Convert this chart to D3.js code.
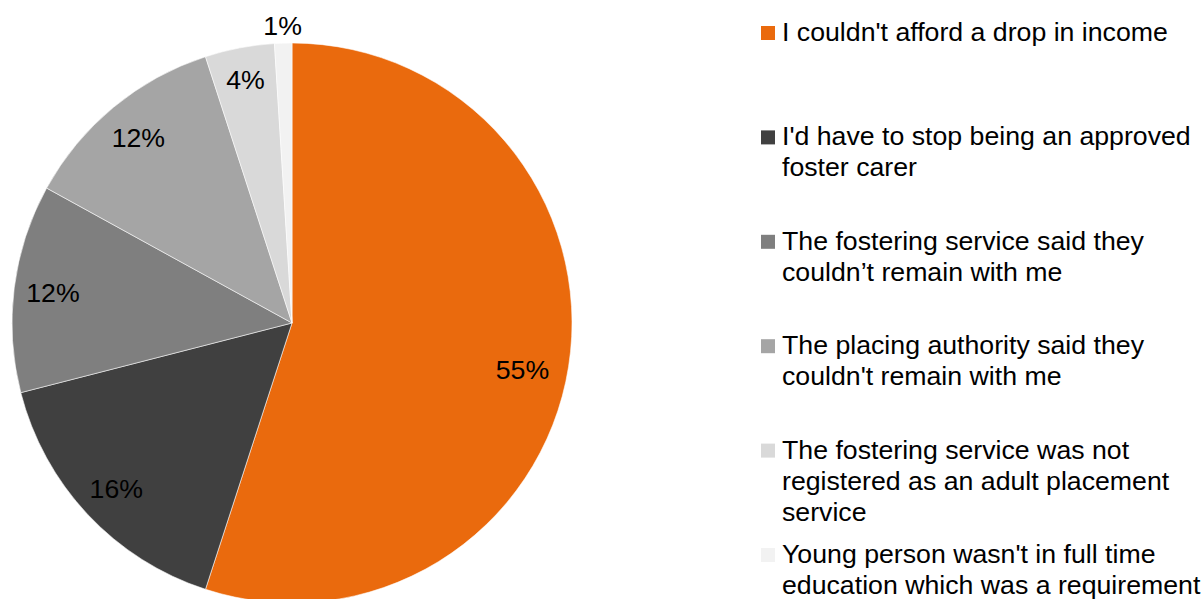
<!DOCTYPE html>
<html>
<head>
<meta charset="utf-8">
<script src="https://cdn.jsdelivr.net/npm/d3@7"></script>
<style>
  html, body { margin: 0; padding: 0; background: #fff; }
  svg { display: block; }
  text { font-family: "Liberation Sans", Arial, sans-serif; fill: #000; }
</style>
</head>
<body>
<svg id="chart" width="1202" height="599"></svg>
<script>
// Reasons given, in drawing order (clockwise from 12 o'clock)
const categories = [
  "I couldn't afford a drop in income",
  "I'd have to stop being an approved foster carer",
  "The fostering service said they couldn\u2019t remain with me",
  "The placing authority said they couldn't remain with me",
  "The fostering service was not registered as an adult placement service",
  "Young person wasn't in full time education which was a requirement"
];
// Legend text broken into lines
const legendLines = [
  ["I couldn't afford a drop in income"],
  ["I'd have to stop being an approved", "foster carer"],
  ["The fostering service said they", "couldn\u2019t remain with me"],
  ["The placing authority said they", "couldn't remain with me"],
  ["The fostering service was not", "registered as an adult placement", "service"],
  ["Young person wasn't in full time", "education which was a requirement"]
];
const percentages = [55, 16, 12, 12, 4, 1];
const colors = ["#EA6A0D", "#404040", "#7F7F7F", "#A5A5A5", "#D9D9D9", "#F2F2F2"];

const svg = d3.select("#chart");
const cx = 292, cy = 323, R = 280;
const fontSize = 26.7;

const pie = d3.pie().sort(null).value(d => d.value).startAngle(0).endAngle(2 * Math.PI);
const data = categories.map((c, i) => ({ name: c, value: percentages[i], color: colors[i] }));
const arcs = pie(data);
const arc = d3.arc().innerRadius(0).outerRadius(R);

const g = svg.append("g").attr("transform", `translate(${cx},${cy})`);

g.selectAll("path.slice")
  .data(arcs)
  .join("path")
  .attr("class", "slice")
  .attr("d", arc)
  .attr("fill", d => d.data.color)
  .attr("stroke", "#fff")
  .attr("stroke-width", 0.8)
  .attr("stroke-opacity", 0.7);

// Data labels: inside the slice, or just outside for very thin slices
function labelRadius(d) {
  const share = (d.endAngle - d.startAngle) / (2 * Math.PI);
  if (share < 0.02) return R + 18;
  if (share < 0.06) return R - 32;
  if (share > 0.5) return R - 45;
  return R - 39;
}
function labelAngle(d) {
  const share = (d.endAngle - d.startAngle) / (2 * Math.PI);
  const mid = (d.startAngle + d.endAngle) / 2;
  // nudge the large slice's label slightly below its bisector
  return share > 0.5 ? mid + 0.04 : mid;
}
g.selectAll("text.lbl")
  .data(arcs)
  .join("text")
  .attr("class", "lbl")
  .attr("x", d => labelRadius(d) * Math.sin(labelAngle(d)))
  .attr("y", d => -labelRadius(d) * Math.cos(labelAngle(d)))
  .attr("text-anchor", "middle")
  .attr("dy", "0.36em")
  .style("font-size", fontSize + "px")
  .text(d => d3.format(".0f")(d.data.value) + "%");

// Legend
const legendX = 761, legendTop = 41, itemStep = 104.4, lineH = 31, sw = 14;
const items = svg.append("g").selectAll("g.item")
  .data(data)
  .join("g")
  .attr("class", "item")
  .attr("transform", (d, i) => `translate(${legendX},${legendTop + i * itemStep})`);

items.append("rect")
  .attr("x", 0)
  .attr("y", -15)
  .attr("width", sw)
  .attr("height", sw)
  .attr("fill", d => d.color);

items.append("text")
  .attr("x", 21)
  .style("font-size", fontSize + "px")
  .selectAll("tspan")
  .data((d, i) => legendLines[i])
  .join("tspan")
  .attr("x", 21)
  .attr("y", (t, j) => j * lineH)
  .text(t => t);
</script>
</body>
</html>
